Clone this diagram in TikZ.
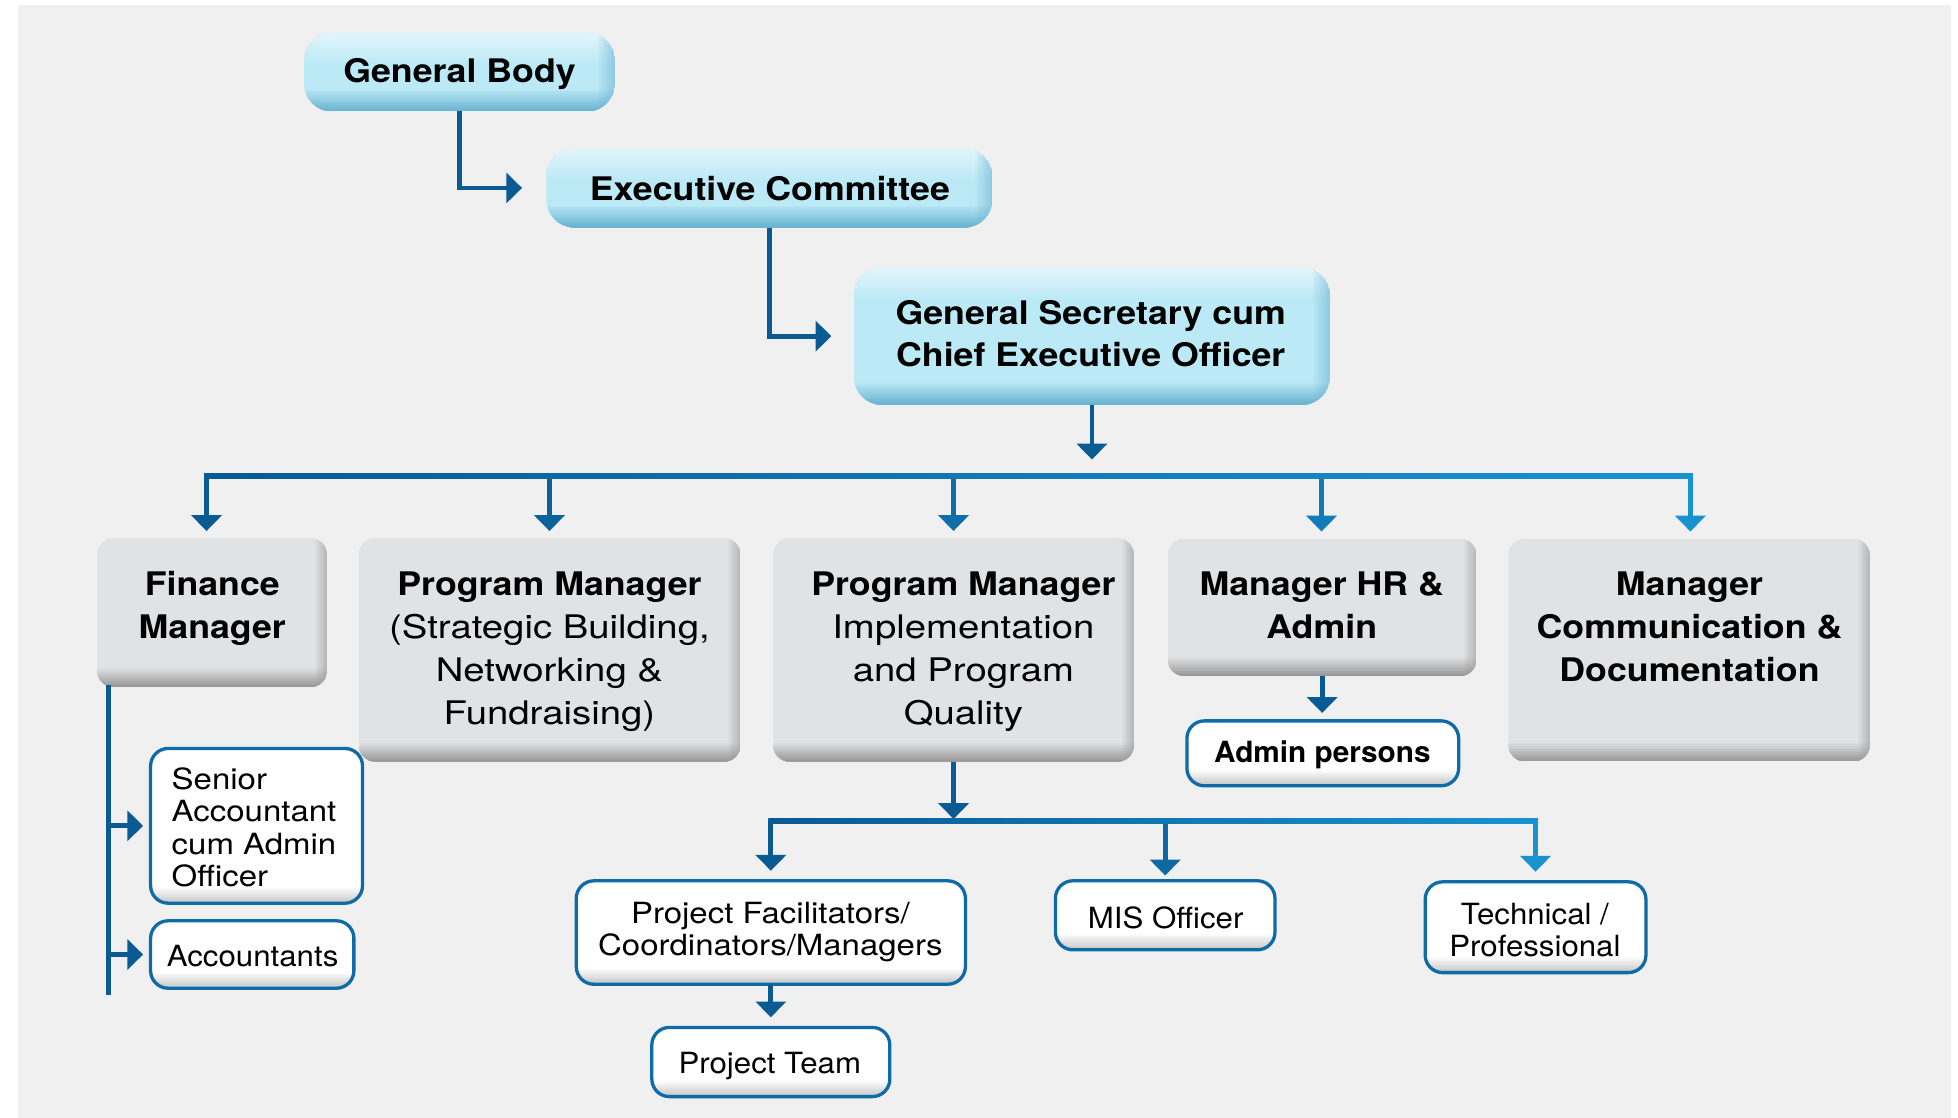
\documentclass[tikz,border=0pt]{standalone}
\usepackage{fontspec}
\usetikzlibrary{arrows.meta}
\newfontfamily\hdfont{TeX Gyre Heros}[FakeStretch=1.10]
\newfontfamily\grfont{TeX Gyre Heros}[FakeStretch=1.18]
\newfontfamily\wtfont{TeX Gyre Heros}[FakeStretch=1.07]
\newfontfamily\wtfontb{TeX Gyre Heros}[FakeStretch=1.13]
\newfontfamily\plfont{TeX Gyre Heros}[FakeStretch=1.02]
\newcommand\mylines[1]{\begin{tabular}[t]{@{}c@{}}#1\end{tabular}}
\newcommand\mylinesl[1]{\begin{tabular}[t]{@{}l@{}}#1\end{tabular}}
\newcommand\hdsize{\fontsize{7.4pt}{9.82pt}\selectfont}
\newcommand\cesize{\fontsize{7.4pt}{9.67pt}\selectfont}
\newcommand\wtsize{\fontsize{6.65pt}{7.4pt}\selectfont}
\definecolor{bg}{HTML}{F0F0F0}
\definecolor{grayfill}{HTML}{E1E2E4}
\definecolor{grayshadow}{HTML}{9A9A9A}
\definecolor{bluefill}{HTML}{BBE9F5}
\definecolor{bluetop}{HTML}{E2F5FB}
\definecolor{blueshadow}{HTML}{6AB3D2}
\definecolor{dkblue}{HTML}{0A5A93}
\definecolor{ltblue}{HTML}{1893D0}
\definecolor{wborder}{HTML}{0F6AA8}
\colorlet{wshadow}{black!22}
% stepped gradients: #1 node, #2 size in pt, #3 base colour, #4 edge colour
\newcommand\botgrad[4]{%
  \foreach \i in {0,...,11}{%
    \pgfmathtruncatemacro\gp{(\i+1)*100/12}%
    \pgfmathsetmacro\gh{(12-\i)*#2/12}%
    \fill[#4!\gp!#3] (#1.south west) rectangle ([yshift=\gh pt]#1.south east);}}
\newcommand\topgrad[4]{%
  \foreach \i in {0,...,11}{%
    \pgfmathtruncatemacro\gp{(\i+1)*100/12}%
    \pgfmathsetmacro\gh{(12-\i)*#2/12}%
    \fill[#4!\gp!#3] (#1.north west) rectangle ([yshift=-\gh pt]#1.north east);}}
% right edge darkening as a translucent overlay: #1 node, #2 width pt, #3 colour, #4 max opacity
\newcommand\rightshade[4]{%
  \foreach \i in {0,...,11}{%
    \pgfmathsetmacro\ga{(12-\i)/12*#4}%
    \pgfmathsetmacro\gx{\i*#2/12}%
    \pgfmathsetmacro\gy{(\i+1)*#2/12}%
    \fill[#3, opacity=\ga] ([xshift=-\gx pt]#1.north east) rectangle ([xshift=-\gy pt]#1.south east);}}
\newcommand\bluedeco[1]{%
  \begin{scope}
    \clip[rounded corners=6.5pt] (#1.south west) rectangle (#1.north east);
    \fill[bluefill] (#1.south west) rectangle (#1.north east);
    \topgrad{#1}{7}{bluefill}{bluetop}
    \botgrad{#1}{5}{bluefill}{blueshadow}
    \rightshade{#1}{4}{blueshadow}{0.55}
  \end{scope}}
\newcommand\graydeco[1]{%
  \begin{scope}
    \clip[rounded corners=3.8pt] (#1.south west) rectangle (#1.north east);
    \fill[grayfill] (#1.south west) rectangle (#1.north east);
    \botgrad{#1}{4.2}{grayfill}{grayshadow}
    \rightshade{#1}{2.8}{grayshadow}{0.6}
  \end{scope}}
\newcommand\whitedeco[1]{%
  \begin{scope}
    \clip[rounded corners=4pt] (#1.south west) rectangle (#1.north east);
    \fill[white] (#1.south west) rectangle (#1.north east);
    \botgrad{#1}{3.5}{white}{wshadow}
  \end{scope}
  \draw[wborder, line width=0.75pt, rounded corners=4pt] (#1.south west) rectangle (#1.north east);}
\tikzset{
  boxph/.style={inner sep=0pt, draw=none, fill=none},
  txt/.style={inner sep=0pt, anchor=base},
  conn/.style={line width=1.1pt, -{Triangle[length=3.6pt, width=6.8pt]}},
  plain/.style={line width=1.1pt},
}
\begin{document}
\begin{tikzpicture}[x=0.1mm, y=-0.1mm]
\useasboundingbox (0,0) rectangle (1568,895);
\fill[bg] (14.4,3.7) rectangle (1562.4,895);

% box frames (named)
\node[boxph, minimum width=24.78mm, minimum height=6.19mm] (gb) at (368,57.65) {};
\node[boxph, minimum width=35.6mm, minimum height=6.19mm] (ec) at (616.2,150.55) {};
\node[boxph, minimum width=38.01mm, minimum height=10.86mm] (ceo) at (874.45,269.2) {};

\node[boxph, minimum width=18.3mm, minimum height=11.78mm] (fm) at (169.9,490.5) {};
\node[boxph, minimum width=30.44mm, minimum height=17.76mm] (pms) at (440.2,520.4) {};
\node[boxph, minimum width=28.77mm, minimum height=17.76mm] (pmi) at (763.65,520.4) {};
\node[boxph, minimum width=24.6mm, minimum height=10.86mm] (hr) at (1058.8,486.3) {};
\node[boxph, minimum width=28.82mm, minimum height=17.7mm] (mcd) at (1352.7,520.5) {};

\node[boxph, minimum width=21.62mm, minimum height=5.06mm] (ap) at (1059.3,603.3) {};
\node[boxph, minimum width=16.83mm, minimum height=12.25mm] (sa) at (205.45,661.35) {};
\node[boxph, minimum width=16.14mm, minimum height=5.26mm] (acc) at (202,764.4) {};
\node[boxph, minimum width=31.02mm, minimum height=8.14mm] (pf) at (617.3,746.8) {};
\node[boxph, minimum width=17.44mm, minimum height=5.39mm] (mis) at (933.1,733) {};
\node[boxph, minimum width=17.54mm, minimum height=7.13mm] (tp) at (1229.7,742.55) {};
\node[boxph, minimum width=18.92mm, minimum height=5.4mm] (pt) at (617.3,850.5) {};

% box looks
\bluedeco{gb}\bluedeco{ec}\bluedeco{ceo}
\graydeco{fm}\graydeco{pms}\graydeco{pmi}\graydeco{hr}\graydeco{mcd}
\whitedeco{ap}\whitedeco{sa}\whitedeco{acc}\whitedeco{pf}\whitedeco{mis}\whitedeco{tp}\whitedeco{pt}

% texts
\node[txt, font=\cesize\hdfont\bfseries] (gbt) at (368,66.2) {General Body};
\node[txt, font=\cesize\hdfont\bfseries] (ect) at (616.5,160.2) {Executive Committee};
\node[txt, font=\cesize\hdfont\bfseries] (ceot) at (873.5,259.8) {\mylines{General Secretary cum\\Chief Executive Officer}};

\node[txt, font=\hdsize\hdfont\bfseries] (fmt) at (170,476.5) {\mylines{Finance\\Manager}};
\node[txt, font=\hdsize] (pmst) at (440,476.5) {\mylines{\hdfont\bfseries Program Manager\\\grfont (Strategic Building,\\\grfont Networking \&\\\grfont Fundraising)}};
\node[txt, font=\hdsize] (pmit) at (771.5,476.5) {\mylines{\hdfont\bfseries Program Manager\\\grfont Implementation\\\grfont and Program\\\grfont Quality}};
\node[txt, font=\hdsize\hdfont\bfseries] (hrt) at (1058.5,477) {\mylines{Manager HR \&\\Admin}};
\node[txt, font=\hdsize\hdfont\bfseries] (mcdt) at (1353,477) {\mylines{Manager\\Communication \&\\Documentation}};

\node[txt, font=\wtsize\plfont\bfseries] (apt) at (1059,610.3) {Admin persons};
\node[txt, anchor=base west, font=\wtsize\wtfontb] (sat) at (136.8,632.1) {\mylinesl{Senior\\Accountant\\cum Admin\\Officer}};
\node[txt, font=\wtsize\wtfont] (acct) at (202.3,774.2) {Accountants};
\node[txt, font=\wtsize\wtfontb] (pft) at (617,739.4) {\mylines{Project Facilitators/\\Coordinators/Managers}};
\node[txt, font=\wtsize\wtfont] (mist) at (933.5,743.4) {MIS Officer};
\node[txt, font=\wtsize\wtfont] (tpt) at (1229.2,740) {\mylines{Technical /\\Professional}};
\node[txt, font=\wtsize\wtfont] (ptt) at (616.5,859.5) {Project Team};

% top connectors
\draw[conn, dkblue] (gb.south) |- ([xshift=-1.94mm]ec.west);
\draw[conn, dkblue] (ec.south) |- ([xshift=-1.79mm]ceo.west);
\draw[conn, dkblue] (ceo.south) -- ++(0,43.8);

% main bus
\coordinate (d1) at (165.4,381.4);
\coordinate (d2) at (440,381.4);
\coordinate (d3) at (763.6,381.4);
\coordinate (d4) at (1058.3,381.4);
\coordinate (d5) at (1353.7,381.4);
\draw[conn, dkblue, shorten >=1.6pt] (d1) -- (d1 |- fm.north);
\draw[conn, dkblue!85!ltblue, shorten >=1.6pt] (d2) -- (d2 |- pms.north);
\draw[conn, dkblue!65!ltblue, shorten >=1.6pt] (d3) -- (d3 |- pmi.north);
\draw[conn, dkblue!40!ltblue, shorten >=1.6pt] (d4) -- (d4 |- hr.north);
\draw[conn, ltblue, shorten >=1.6pt] (d5) -- (d5 |- mcd.north);
\shade[left color=dkblue, middle color=dkblue!70!ltblue, right color=ltblue] (163.45,379.45) rectangle (1355.65,383.35);

% HR to admin persons
\draw[conn, dkblue, shorten >=1.8pt] (hr.south) -- (hr.south |- ap.north);

% finance branch
\coordinate (ftop) at (86.6,548.4);
\coordinate (fbot) at (86.6,796.8);
\draw[plain, dkblue] (ftop) -- (fbot);
\draw[conn, dkblue, shorten >=1.7pt] (ftop |- sa.west) -- (sa.west);
\draw[conn, dkblue, shorten >=1.7pt] (ftop |- acc.west) -- (acc.west);

% PMI bus
\coordinate (e1) at (617.3,657.5);
\coordinate (e2) at (933.1,657.5);
\coordinate (e3) at (1229.7,657.5);
\draw[conn, dkblue] (pmi.south) -- ++(0,46);
\draw[conn, dkblue, shorten >=2.3pt] (e1) -- (e1 |- pf.north);
\draw[conn, dkblue!75!ltblue, shorten >=1.2pt] (e2) -- (e2 |- mis.north);
\draw[conn, ltblue, shorten >=2.3pt] (e3) -- (e3 |- tp.north);
\shade[left color=dkblue, right color=ltblue] (615.35,655.55) rectangle (1231.65,659.45);

% project team
\draw[conn, dkblue, shorten >=2.3pt] (pf.south) -- (pt.north);
\end{tikzpicture}
\end{document}
